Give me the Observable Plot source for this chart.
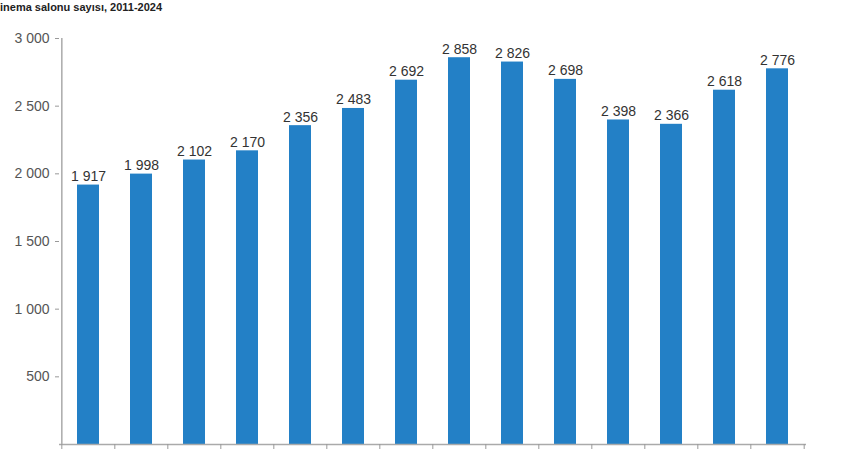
<!DOCTYPE html>
<html>
<head>
<meta charset="utf-8">
<script src="https://cdn.jsdelivr.net/npm/d3@7"></script>
<script src="https://cdn.jsdelivr.net/npm/@observablehq/plot@0.6"></script>
<style>
  html, body { margin: 0; padding: 0; background: #fff; }
  #title { font: bold 11px "Liberation Sans", Arial, sans-serif; color: #222; height: 14px; line-height: 14px; padding-left: 0; white-space: nowrap; }
</style>
</head>
<body>
<div id="title">inema salonu sayısı, 2011-2024</div>
<div id="chart"></div>
<script>
const years = ["2011","2012","2013","2014","2015","2016","2017","2018","2019","2020","2021","2022","2023","2024"];
const salons = [1917, 1998, 2102, 2170, 2356, 2483, 2692, 2858, 2826, 2698, 2398, 2366, 2618, 2776];
const yTicks = [500, 1000, 1500, 2000, 2500, 3000];

const data = years.map((y, i) => ({year: y, value: salons[i]}));
const fmt = d3.formatLocale({thousands: "\u00a0", grouping: [3], decimal: ","}).format(",");

const W = 850, H = 436, ML = 59, MR = 44, MT = 24, MB = 6;
const step = (W - ML - MR) / years.length;

const chart = Plot.plot({
  width: W, height: H,
  marginLeft: ML, marginRight: MR, marginTop: MT, marginBottom: MB,
  style: {fontFamily: "'Liberation Sans', Arial, sans-serif", fontSize: "14px", color: "#444", background: "#fff"},
  x: {domain: years, paddingInner: 0.59, paddingOuter: 0.295, label: null},
  y: {domain: [0, 3000], label: null},
  marks: [
    Plot.barY(data, {x: "year", y: "value", fill: "#2380c6"}),
    Plot.text(data, {x: "year", y: "value", text: d => fmt(d.value), lineAnchor: "bottom", dy: -4, fill: "#333", fontSize: 14}),
    Plot.axisY({ticks: yTicks, tickFormat: fmt, tickSize: 4, tickPadding: 6, stroke: "#999", fill: "#555", fontSize: 14, label: null}),
    Plot.ruleX([0], {x: () => years[0], dx: -step / 2, y1: 0, y2: 3000, stroke: "#aaa", strokeWidth: 1.5}),
    Plot.ruleY([0], {stroke: "#aaa", strokeWidth: 1.5}),
    Plot.axisX({tickFormat: () => "", tickSize: 5, dx: -step / 2, stroke: "#999", label: null}),
    Plot.axisX({ticks: [years[years.length - 1]], tickFormat: () => "", tickSize: 5, dx: step / 2, stroke: "#999", label: null})
  ]
});
document.getElementById("chart").appendChild(chart);
</script>
</body>
</html>
